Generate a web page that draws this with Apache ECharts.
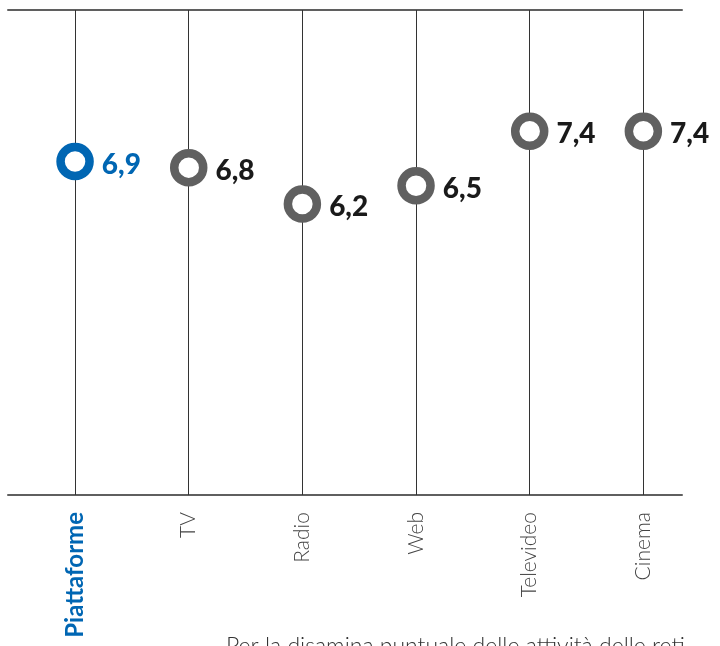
<!DOCTYPE html>
<html>
<head>
<meta charset="utf-8">
<style>
  html, body { margin: 0; padding: 0; background: #ffffff; }
  #chart { width: 720px; height: 646px; }
</style>
<script src="https://cdn.jsdelivr.net/npm/echarts@6/dist/echarts.min.js"></script>
</head>
<body>
<div id="chart"></div>
<script>
// Media categories and their average score
const categories = ['Piattaforme', 'TV', 'Radio', 'Web', 'Televideo', 'Cinema'];
const scores = [6.9, 6.8, 6.2, 6.5, 7.4, 7.4];
const highlighted = 'Piattaforme';
const footnote = 'Per la disamina puntuale delle attività delle reti';

const BLUE = '#0066b3';
const GREY = '#606060';
const INK = '#1a1a1a';
const FONT = 'Lato, "Open Sans", "DejaVu Sans", sans-serif';

const chart = echarts.init(document.getElementById('chart'), null, { renderer: 'canvas' });

const idx = categories.map((c, i) => i);

const points = categories.map((c, i) => {
  const isHi = c === highlighted;
  return {
    value: [i, scores[i]],
    itemStyle: { color: '#ffffff', borderColor: isHi ? BLUE : GREY, borderWidth: 8.5, opacity: 1 },
    label: { color: isHi ? BLUE : INK }
  };
});

const frameAxis = {
  type: 'value',
  min: -0.59,
  max: 5.34,
  splitLine: { show: false },
  axisTick: { show: false },
  axisLine: { show: true, onZero: false, lineStyle: { color: '#5f5f5f', width: 2 } }
};

chart.setOption({
  animation: false,
  backgroundColor: '#ffffff',
  title: {
    text: footnote,
    left: 221,
    top: 630,
    textStyle: { fontFamily: FONT, fontSize: 23, fontWeight: 300, color: '#333333' }
  },
  grid: { left: 8, right: 38, top: 10, bottom: 151 },
  xAxis: [
    Object.assign({}, frameAxis, {
      position: 'bottom',
      axisLabel: {
        customValues: idx,
        rotate: 90,
        margin: 17,
        fontFamily: FONT,
        fontSize: 21,
        fontWeight: 300,
        color: '#444444',
        formatter: v => {
          const name = categories[Math.round(v)];
          return name === highlighted ? '{hi|' + name + '}' : name;
        },
        rich: {
          hi: { fontFamily: FONT, fontSize: 24, fontWeight: 'bold', color: BLUE }
        }
      }
    }),
    Object.assign({}, frameAxis, {
      position: 'top',
      axisLabel: { show: false }
    })
  ],
  yAxis: {
    type: 'value',
    min: 1.4,
    max: 9.4,
    show: false,
    splitLine: { show: false }
  },
  series: [
    {
      type: 'scatter',
      xAxisIndex: 0,
      symbol: 'circle',
      symbolSize: 29,
      z: 5,
      itemStyle: { opacity: 1 },
      data: points,
      label: {
        show: true,
        position: 'right',
        distance: 8,
        offset: [0, 3],
        fontFamily: FONT,
        fontSize: 28,
        fontWeight: 900,
        formatter: p => p.value[1].toFixed(1).replace('.', ',')
      },
      markLine: {
        silent: true,
        symbol: 'none',
        z: 1,
        label: { show: false },
        lineStyle: { color: '#333333', width: 1, type: 'solid', opacity: 1 },
        emphasis: { disabled: true },
        data: idx.map(i => ({ xAxis: i }))
      }
    }
  ]
});
</script>
</body>
</html>
